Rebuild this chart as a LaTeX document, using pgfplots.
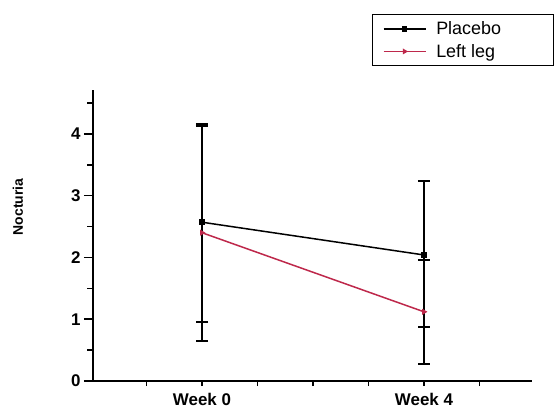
\documentclass[border=0pt]{standalone}
\usepackage{fontspec}
\setmainfont{Liberation Sans}
\usepackage{pgfplots}
\pgfplotsset{compat=1.18}
\definecolor{leftred}{RGB}{190,40,75}
\begin{document}
\begin{tikzpicture}
\begin{axis}[
  at={(0,0)}, anchor=south west,
  scale only axis, width=439bp, height=291bp,
  xmin=-1.964, xmax=5.946, ymin=0, ymax=4.71,
  axis x line*=bottom, axis y line*=left,
  axis line style={line width=1.8bp, -},
  xtick={-1,0,1,2,3,4,5},
  xticklabels={{},Week 0,{},{},{},Week 4,{}},
  ytick={0,1,2,3,4}, minor ytick={0.5,1.5,2.5,3.5,4.5},
  tick align=outside,
  major tick length=9bp, minor tick length=5.5bp,
  every tick/.style={black, line width=1.5bp},
  xtick style={/pgfplots/major tick length=5bp},
  tick label style={font=\fontsize{17}{20}\selectfont\bfseries},
  /pgf/number format/assume math mode=true,
  ylabel={Nocturia},
  ylabel style={font=\fontsize{14}{16}\selectfont\bfseries, at={(axis description cs:-0.171,0.598)}, anchor=center},
  legend style={at={(1.050,1.261)}, anchor=north east, draw=black, line width=1.4bp,
    font=\fontsize{18}{22}\selectfont, inner xsep=10bp, inner ysep=5bp, row sep=4bp,
    column sep=8bp, cells={anchor=west}},
  legend image code/.code={\draw[mark repeat=2,mark phase=2,#1] plot coordinates {(0bp,0bp) (21bp,0bp) (42bp,0bp)};},
]
\addplot[black, line width=1.5bp, mark=square*, mark size=2bp,
  error bars/.cd, y dir=both, y explicit,
  error bar style={line width=2bp, black},
  error mark options={rotate=90, mark size=6bp, line width=2bp, black}]
  coordinates {(0,2.57) += (0,1.56) -= (0,1.62) (4,2.04) += (0,1.19) -= (0,1.17)};
\addlegendentry{\makebox[105bp][l]{Placebo}}
\addplot[leftred, line width=1.5bp, mark=triangle*, mark size=2bp, mark options={rotate=-90},
  error bars/.cd, y dir=both, y explicit,
  error bar style={line width=2bp, black},
  error mark options={rotate=90, mark size=6bp, line width=2bp, black}]
  coordinates {(0,2.40) +- (0,1.76) (4,1.12) +- (0,0.84)};
\addlegendentry{\makebox[105bp][l]{Left leg}}
\end{axis}
\pgfresetboundingbox
\path[use as bounding box] (-93bp,-34bp) rectangle (462bp,381bp);
\end{tikzpicture}
\end{document}
